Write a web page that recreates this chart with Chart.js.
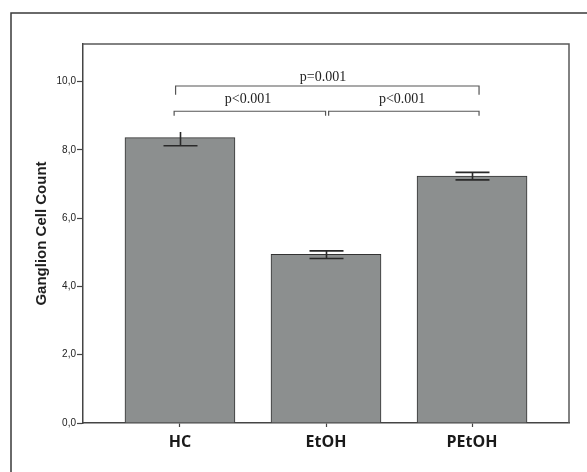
<!DOCTYPE html>
<html>
<head>
<meta charset="utf-8">
<script src="https://cdn.jsdelivr.net/npm/chart.js@4/dist/chart.umd.min.js"></script>
<style>
  html, body { margin: 0; padding: 0; background: #fff; }
  #wrap { width: 587px; height: 472px; position: relative; }
</style>
</head>
<body>
<div id="wrap"><canvas id="c" width="587" height="472"></canvas></div>
<script>
// ---- data ----
const categories = ['HC', 'EtOH', 'PEtOH'];
const means      = [8.36, 4.94, 7.23];
const errLow     = [8.12, 4.82, 7.12];
const errHigh    = [8.52, 5.04, 7.34];
const yTicks     = [0, 2, 4, 6, 8, 10];
const yMax       = 11.1;
// significance brackets: [x from, x to, y of bar line, y of leg ends]
const brackets = [
  { from: -0.03, to: 2.048, y: 9.87, leg: 9.61 },
  { from: -0.04, to: 0.997, y: 9.13, leg: 9.0 },
  { from: 1.018, to: 2.048, y: 9.13, leg: 9.0 }
];
const pLabels = [
  { text: 'p=0.001', x: 0.979, y: 10.02 },
  { text: 'p<0.001', x: 0.466, y: 9.37 },
  { text: 'p<0.001', x: 1.521, y: 9.37 }
];

const framePlugin = {
  id: 'frame',
  beforeDraw(chart) {
    const ctx = chart.ctx;
    ctx.save();
    ctx.strokeStyle = '#3a3a3a';
    ctx.lineWidth = 1.5;
    ctx.strokeRect(11, 13, 700, 700);
    ctx.restore();
  },
  afterDraw(chart) {
    const ctx = chart.ctx;
    const a = chart.chartArea;
    ctx.save();
    ctx.strokeStyle = '#5a5a5a';
    ctx.lineWidth = 1.5;
    ctx.beginPath();
    ctx.moveTo(a.left, a.top);
    ctx.lineTo(a.right, a.top);
    ctx.lineTo(a.right, a.bottom);
    ctx.stroke();
    ctx.restore();
  }
};

const errPlugin = {
  id: 'errbars',
  afterDatasetsDraw(chart) {
    const ctx = chart.ctx;
    const xs = chart.scales.x, ys = chart.scales.y;
    ctx.save();
    ctx.strokeStyle = '#2a2a2a';
    ctx.lineWidth = 1.6;
    const hw = 17;
    categories.forEach((c, i) => {
      const x = Math.round(xs.getPixelForValue(i)) + 0.5;
      const yl = ys.getPixelForValue(errLow[i]);
      const yh = ys.getPixelForValue(errHigh[i]);
      ctx.beginPath();
      ctx.moveTo(x, yh); ctx.lineTo(x, yl);
      ctx.moveTo(x - hw, yl); ctx.lineTo(x + hw, yl);
      if (i !== 0) { ctx.moveTo(x - hw, yh); ctx.lineTo(x + hw, yh); }
      ctx.stroke();
    });
    // brackets
    ctx.strokeStyle = '#555';
    ctx.lineWidth = 1.2;
    brackets.forEach(b => {
      const x1 = xs.getPixelForValue(b.from), x2 = xs.getPixelForValue(b.to);
      const y = ys.getPixelForValue(b.y), yl = ys.getPixelForValue(b.leg);
      ctx.beginPath();
      ctx.moveTo(x1, yl); ctx.lineTo(x1, y); ctx.lineTo(x2, y); ctx.lineTo(x2, yl);
      ctx.stroke();
    });
    ctx.fillStyle = '#222';
    ctx.font = '14px "Liberation Serif", "Times New Roman", serif';
    ctx.textAlign = 'center';
    ctx.textBaseline = 'alphabetic';
    pLabels.forEach(p => {
      ctx.fillText(p.text, xs.getPixelForValue(p.x), ys.getPixelForValue(p.y));
    });
    ctx.restore();
  }
};

new Chart(document.getElementById('c'), {
  type: 'bar',
  data: {
    datasets: [{
      data: means.map((v, i) => ({ x: i, y: v })),
      backgroundColor: '#8c8f8f',
      borderColor: '#333',
      borderWidth: 1,
      barThickness: 110
    }]
  },
  options: {
    responsive: false,
    animation: false,
    events: [],
    layout: { padding: { left: 0, top: 44, right: 18, bottom: 0 } },
    plugins: { legend: { display: false }, tooltip: { enabled: false } },
    scales: {
      x: {
        type: 'linear',
        offset: false,
        min: -0.664,
        max: 2.664,
        afterBuildTicks: (axis) => { axis.ticks = categories.map((c, i) => ({ value: i })); },
        afterFit: (axis) => { axis.height = 49; },
        ticks: {
          callback: (v) => categories[v] ?? '',
          font: { family: '"Open Sans", sans-serif', size: 16, weight: 'bold' },
          color: '#1a1a1a',
          padding: 6,
          maxRotation: 0,
          autoSkip: false
        },
        grid: { display: true, offset: false, drawOnChartArea: false, tickLength: 4, color: '#444', tickWidth: 1.2 },
        border: { display: true, color: '#444', width: 1.5 }
      },
      y: {
        min: 0,
        max: yMax,
        afterBuildTicks: (axis) => { axis.ticks = yTicks.map(v => ({ value: v })); },
        afterFit: (axis) => { axis.width = 83; },
        ticks: {
          callback: (v) => v.toFixed(1).replace('.', ','),
          font: { family: '"Liberation Sans", Arial, sans-serif', size: 10 },
          color: '#222',
          padding: 1
        },
        grid: { display: true, drawOnChartArea: false, tickLength: 6, color: '#444', tickWidth: 1.2 },
        border: { display: true, color: '#444', width: 1.5 },
        title: {
          display: true,
          text: 'Ganglion Cell Count',
          font: { family: '"Liberation Sans", Arial, sans-serif', size: 15, weight: 'bold' },
          color: '#1e1e1e',
          padding: { top: 33, bottom: 0 }
        }
      }
    }
  },
  plugins: [framePlugin, errPlugin]
});
</script>
</body>
</html>
